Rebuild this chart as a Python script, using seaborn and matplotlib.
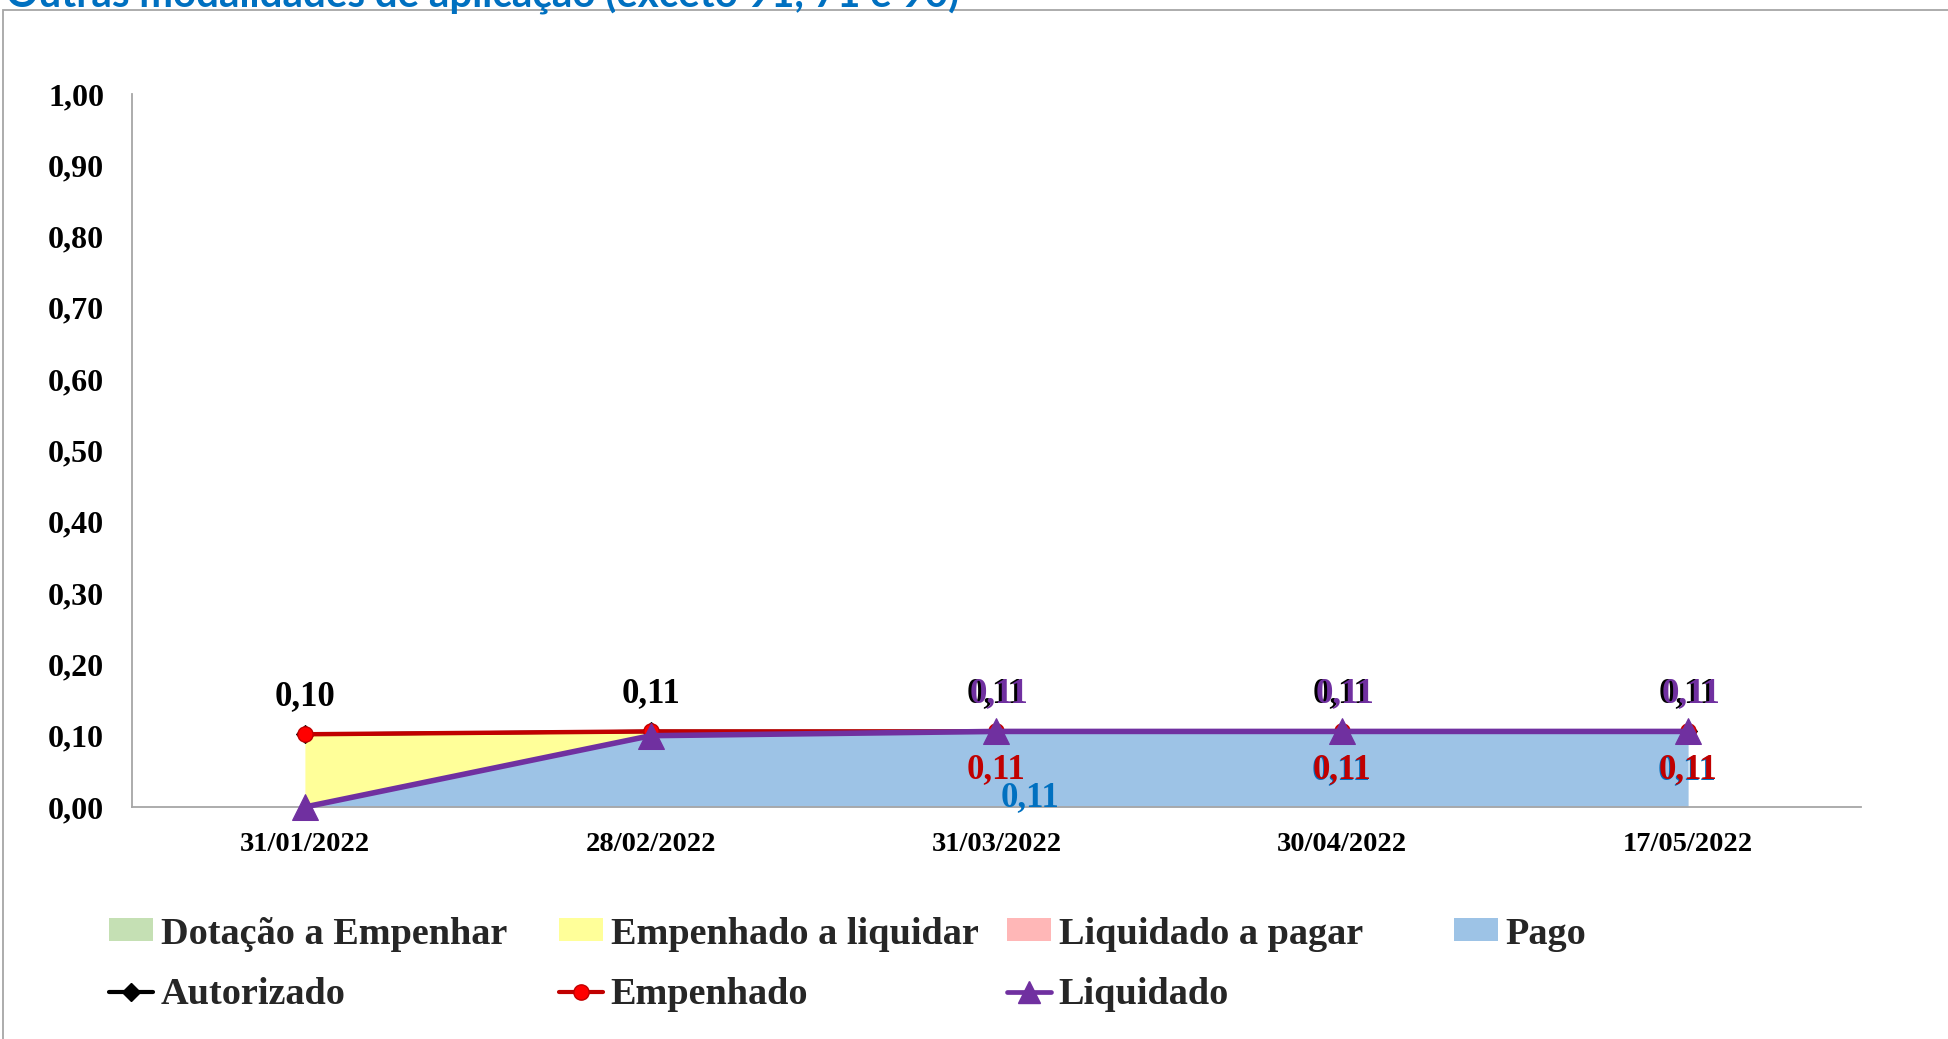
import numpy as np
import pandas as pd
import seaborn as sns
import matplotlib
matplotlib.use("Agg")
import matplotlib.pyplot as plt
from matplotlib.patches import Patch, Rectangle
from matplotlib.lines import Line2D
from matplotlib.ticker import FuncFormatter, FixedLocator

# data
datas = ["31/01/2022", "28/02/2022", "31/03/2022", "30/04/2022", "17/05/2022"]

dotacao_a_empenhar = [0.0, 0.0, 0.0, 0.0, 0.0]
empenhado_a_liquidar = [0.102, 0.006, 0.0, 0.0, 0.0]
liquidado_a_pagar = [0.0, 0.0, 0.0, 0.0, 0.0]
pago = [0.0, 0.100, 0.106, 0.106, 0.106]

autorizado = [0.102, 0.106, 0.106, 0.106, 0.106]
empenhado = [0.102, 0.106, 0.106, 0.106, 0.106]
liquidado = [0.0, 0.100, 0.106, 0.106, 0.106]

# colours
c_dot = "#C5E0B4"
c_eal = "#FFFF99"
c_lap = "#FFB7B7"
c_pago = "#9DC3E6"
c_aut = "#000000"
c_emp = "#C00000"
c_emp_mk = "#FF0000"
c_liq = "#7030A0"
c_axis = "#A6A6A6"

sns.set_style("white")
plt.rcParams["font.family"] = ["Liberation Serif", "DejaVu Serif"]
plt.rcParams["font.weight"] = "bold"

W, H = 1949, 1039
fig = plt.figure(figsize=(W / 100, H / 100), dpi=100)
ax = fig.add_axes([132 / W, 1 - 807 / H, (1861 - 132) / W, (807 - 94) / H])

x = np.arange(len(datas))

# stacked areas
ax.stackplot(x, pago, liquidado_a_pagar, empenhado_a_liquidar, dotacao_a_empenhar,
             colors=[c_pago, c_lap, c_eal, c_dot], linewidth=0, zorder=1)

df = pd.DataFrame({"x": x, "Autorizado": autorizado,
                   "Empenhado": empenhado, "Liquidado": liquidado})

sns.lineplot(data=df, x="x", y="Autorizado", ax=ax, color=c_aut, lw=2.5,
             marker="D", markersize=9, markeredgecolor=c_aut, zorder=3, clip_on=False)
sns.lineplot(data=df, x="x", y="Empenhado", ax=ax, color=c_emp, lw=3.2,
             marker="o", markersize=11, markerfacecolor=c_emp_mk,
             markeredgecolor=c_emp, markeredgewidth=1, zorder=4, clip_on=False)
sns.lineplot(data=df, x="x", y="Liquidado", ax=ax, color=c_liq, lw=4,
             marker="^", markersize=19, markeredgecolor=c_liq, zorder=5, clip_on=False)

# data labels
lab_kw = dict(textcoords="offset pixels", ha="center", va="center",
              fontsize=25, fontweight="bold", annotation_clip=False, zorder=6)


def fmt(v):
    return f"{v:.2f}".replace(".", ",")


for i in range(len(datas)):
    ax.annotate(fmt(autorizado[i]), (x[i], autorizado[i]), xytext=(0, 38),
                color=c_aut, **lab_kw)
for i in range(2, len(datas)):
    ax.annotate(fmt(liquidado[i]), (x[i], liquidado[i]), xytext=(3, 38),
                color=c_liq, **lab_kw)
    if i == 2:
        ax.annotate(fmt(pago[i]), (x[i], pago[i]), xytext=(33, -66),
                    color="#0070C0", **lab_kw)
    else:
        ax.annotate(fmt(pago[i]), (x[i], pago[i]), xytext=(-1, -39),
                    color="#0070C0", **lab_kw)
    ax.annotate(fmt(empenhado[i]), (x[i], empenhado[i]), xytext=(0, -38),
                color=c_emp, **lab_kw)

# axes
ax.set_xlim(-0.5, len(datas) - 0.5)
ax.set_ylim(0, 1.0)
ax.set_yticks(np.arange(0, 1.01, 0.1))
ax.yaxis.set_major_formatter(FuncFormatter(lambda v, p: fmt(v)))
ax.set_xticks(x)
ax.set_xticklabels(datas)
ax.xaxis.set_minor_locator(FixedLocator(np.arange(0.5, len(datas), 1.0)))
ax.tick_params(axis="x", which="major", length=0, pad=18, labelsize=20.5)
ax.tick_params(axis="x", which="minor", length=7, width=1.2, direction="out")
ax.tick_params(axis="y", length=7, width=1.2, direction="out",
               pad=13, labelsize=23)
ax.tick_params(axis="both", which="both", color=c_axis, labelcolor="black")
for lbl in ax.get_xticklabels() + ax.get_yticklabels():
    lbl.set_fontweight("bold")
ax.set_xlabel("")
ax.set_ylabel("")
for s in ["top", "right"]:
    ax.spines[s].set_visible(False)
for s in ["left", "bottom"]:
    ax.spines[s].set_color(c_axis)
    ax.spines[s].set_linewidth(1.3)

# outer frame
fig.add_artist(Rectangle((3 / W, -0.01), 1.0, 1 - 10 / H + 0.01,
                         transform=fig.transFigure, fill=False,
                         edgecolor=c_axis, linewidth=1.3))

# title (cut at the top, as in the source image)
fig.text(6 / W, 1 - 7.5 / H, "Outras modalidades de aplicação (exceto 91, 71 e 90)",
         color="#0070C0", fontsize=29, fontweight="bold", family=["Lato", "DejaVu Sans"],
         ha="left", va="baseline")

# legend
handles = [
    Patch(facecolor=c_dot, edgecolor="none", label="Dotação a Empenhar"),
    Patch(facecolor=c_eal, edgecolor="none", label="Empenhado a liquidar"),
    Patch(facecolor=c_lap, edgecolor="none", label="Liquidado a pagar"),
    Patch(facecolor=c_pago, edgecolor="none", label="Pago"),
    Line2D([], [], color=c_aut, lw=3, marker="D", markersize=9, label="Autorizado"),
    Line2D([], [], color=c_emp, lw=3, marker="o", markersize=11,
           markerfacecolor=c_emp_mk, markeredgecolor=c_emp, label="Empenhado"),
    Line2D([], [], color=c_liq, lw=3.4, marker="^", markersize=16, label="Liquidado"),
]
col_x = [109, 559, 1007, 1454]
row_y = [934, 995]
pos = [(col_x[0], row_y[0]), (col_x[1], row_y[0]), (col_x[2], row_y[0]), (col_x[3], row_y[0]),
       (col_x[0], row_y[1]), (col_x[1], row_y[1]), (col_x[2], row_y[1])]
for h, (px, py) in zip(handles, pos):
    fig.legend(handles=[h], loc="center left", bbox_to_anchor=(px / W, 1 - py / H),
               frameon=False, borderpad=0, borderaxespad=0, handlelength=1.15,
               handleheight=0.55, handletextpad=0.2,
               prop={"family": "Liberation Serif", "weight": "bold", "size": 27.5})

fig.savefig("out.png", dpi=100)
